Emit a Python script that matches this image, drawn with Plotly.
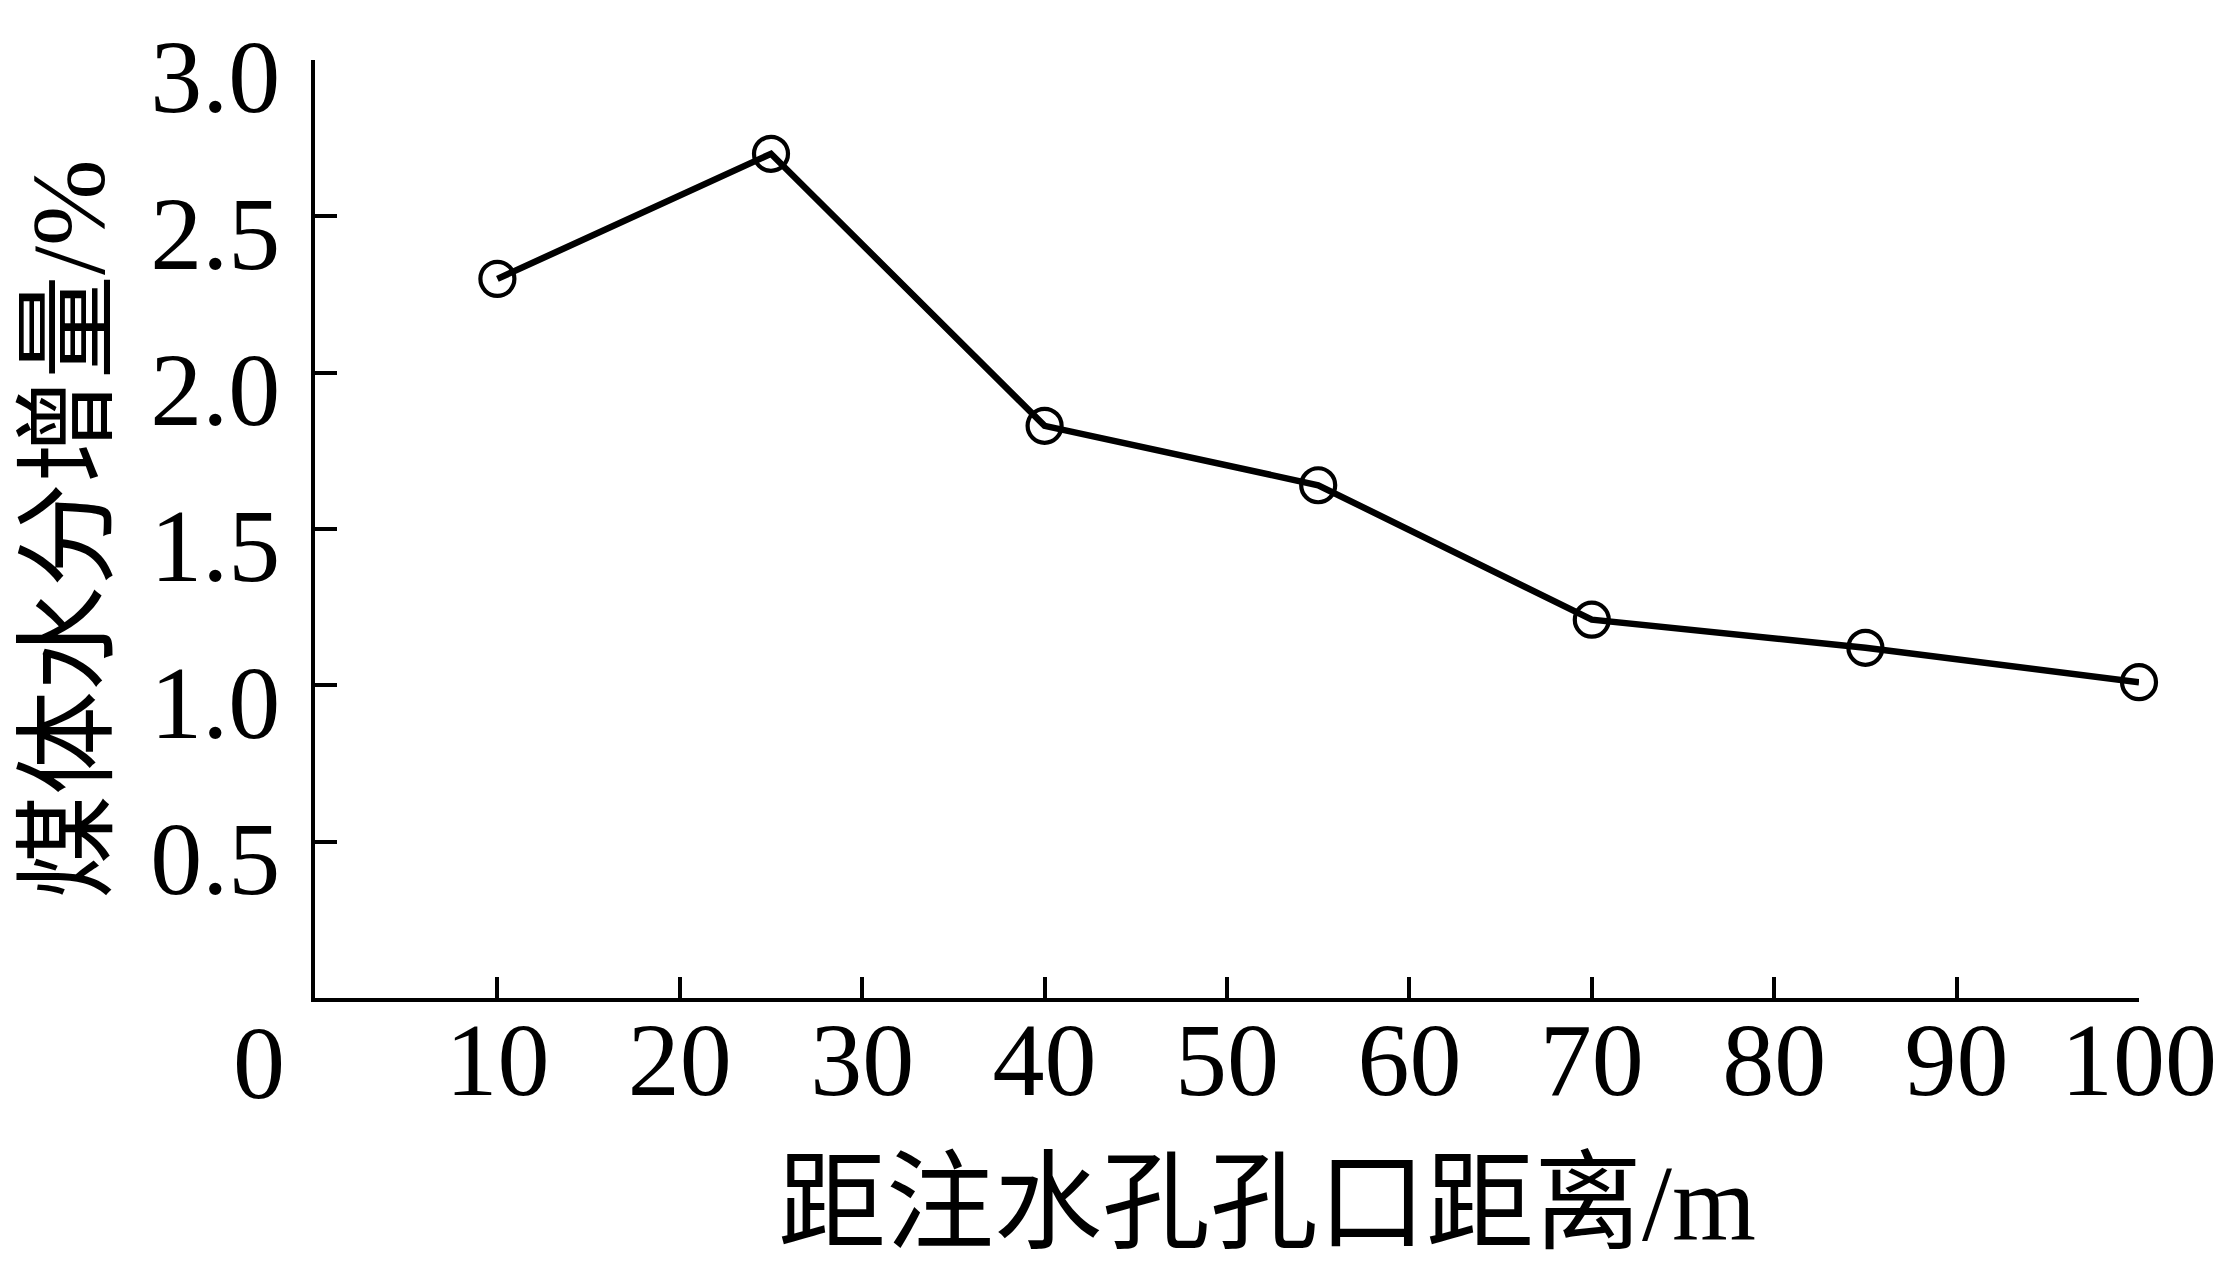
import plotly.graph_objects as go

distance = [10, 25, 40, 55, 70, 85, 100]
moisture_increase = [2.30, 2.70, 1.83, 1.64, 1.21, 1.12, 1.01]
x_ticks = [10, 20, 30, 40, 50, 60, 70, 80, 90, 100]
y_ticks = [0.5, 1.0, 1.5, 2.0, 2.5, 3.0]
x_title = "距注水孔孔口距离/m"
y_title = "煤体水分增量/%"

OFF = 8  # page body margin
W, H = 2226 - OFF, 1273 - OFF
# target plot area in screen pixels
X0, X1, Y0, Y1 = 315, 2139, 60, 998
L, R, T, B = X0 - OFF, W + OFF - X1, Y0 - OFF, H + OFF - Y1
PW, PH = W - L - R, H - T - B

def px(x):
    return (x - X0) / PW

def py(y):
    return (Y1 - y) / PH

font_fam = "Liberation Serif, Noto Sans CJK SC, serif"

fig = go.Figure()
fig.add_trace(go.Scatter(
    x=distance, y=moisture_increase, mode="lines+markers",
    line=dict(color="black", width=6.5),
    marker=dict(symbol="circle-open", size=34, color="black", line=dict(width=4.2, color="black")),
    cliponaxis=False, showlegend=False,
))

fig.update_layout(
    width=W, height=H,
    margin=dict(l=L, r=R, t=T, b=B, pad=0, autoexpand=False),
    paper_bgcolor="white", plot_bgcolor="white",
    font=dict(family=font_fam, color="black", size=104),
    xaxis=dict(
        range=[0, 100], tickvals=x_ticks, ticktext=[str(v) for v in x_ticks],
        ticks="inside", ticklen=21, tickwidth=4, tickcolor="black",
        showline=True, linewidth=4, linecolor="black", mirror=False,
        showgrid=False, zeroline=False, automargin=False,
        tickfont=dict(size=104, family=font_fam),
        ticklabelstandoff=-32,
    ),
    yaxis=dict(
        range=[0, 3], tickvals=y_ticks, ticktext=[f"{v:.1f}" for v in y_ticks],
        ticks="inside", ticklen=22, tickwidth=4, tickcolor="black",
        showline=True, linewidth=4, linecolor="black",
        showgrid=False, zeroline=False, automargin=False,
        tickfont=dict(size=104, family=font_fam),
        ticklabelstandoff=10, ticklabelshift=16,
    ),
    annotations=[
        dict(text="0", xref="paper", yref="paper", x=px(287), y=py(1062),
             xanchor="right", yanchor="middle", showarrow=False, font=dict(size=104, family=font_fam)),
        dict(text=x_title, xref="paper", yref="paper", x=px(1267), y=py(1203),
             xanchor="center", yanchor="middle", showarrow=False, font=dict(size=108, family=font_fam)),
        dict(text=y_title, xref="paper", yref="paper", x=px(68), y=py(529),
             xanchor="center", yanchor="middle", textangle=-90, showarrow=False, font=dict(size=104, family=font_fam)),
    ],
)

fig.write_html("out.html")
